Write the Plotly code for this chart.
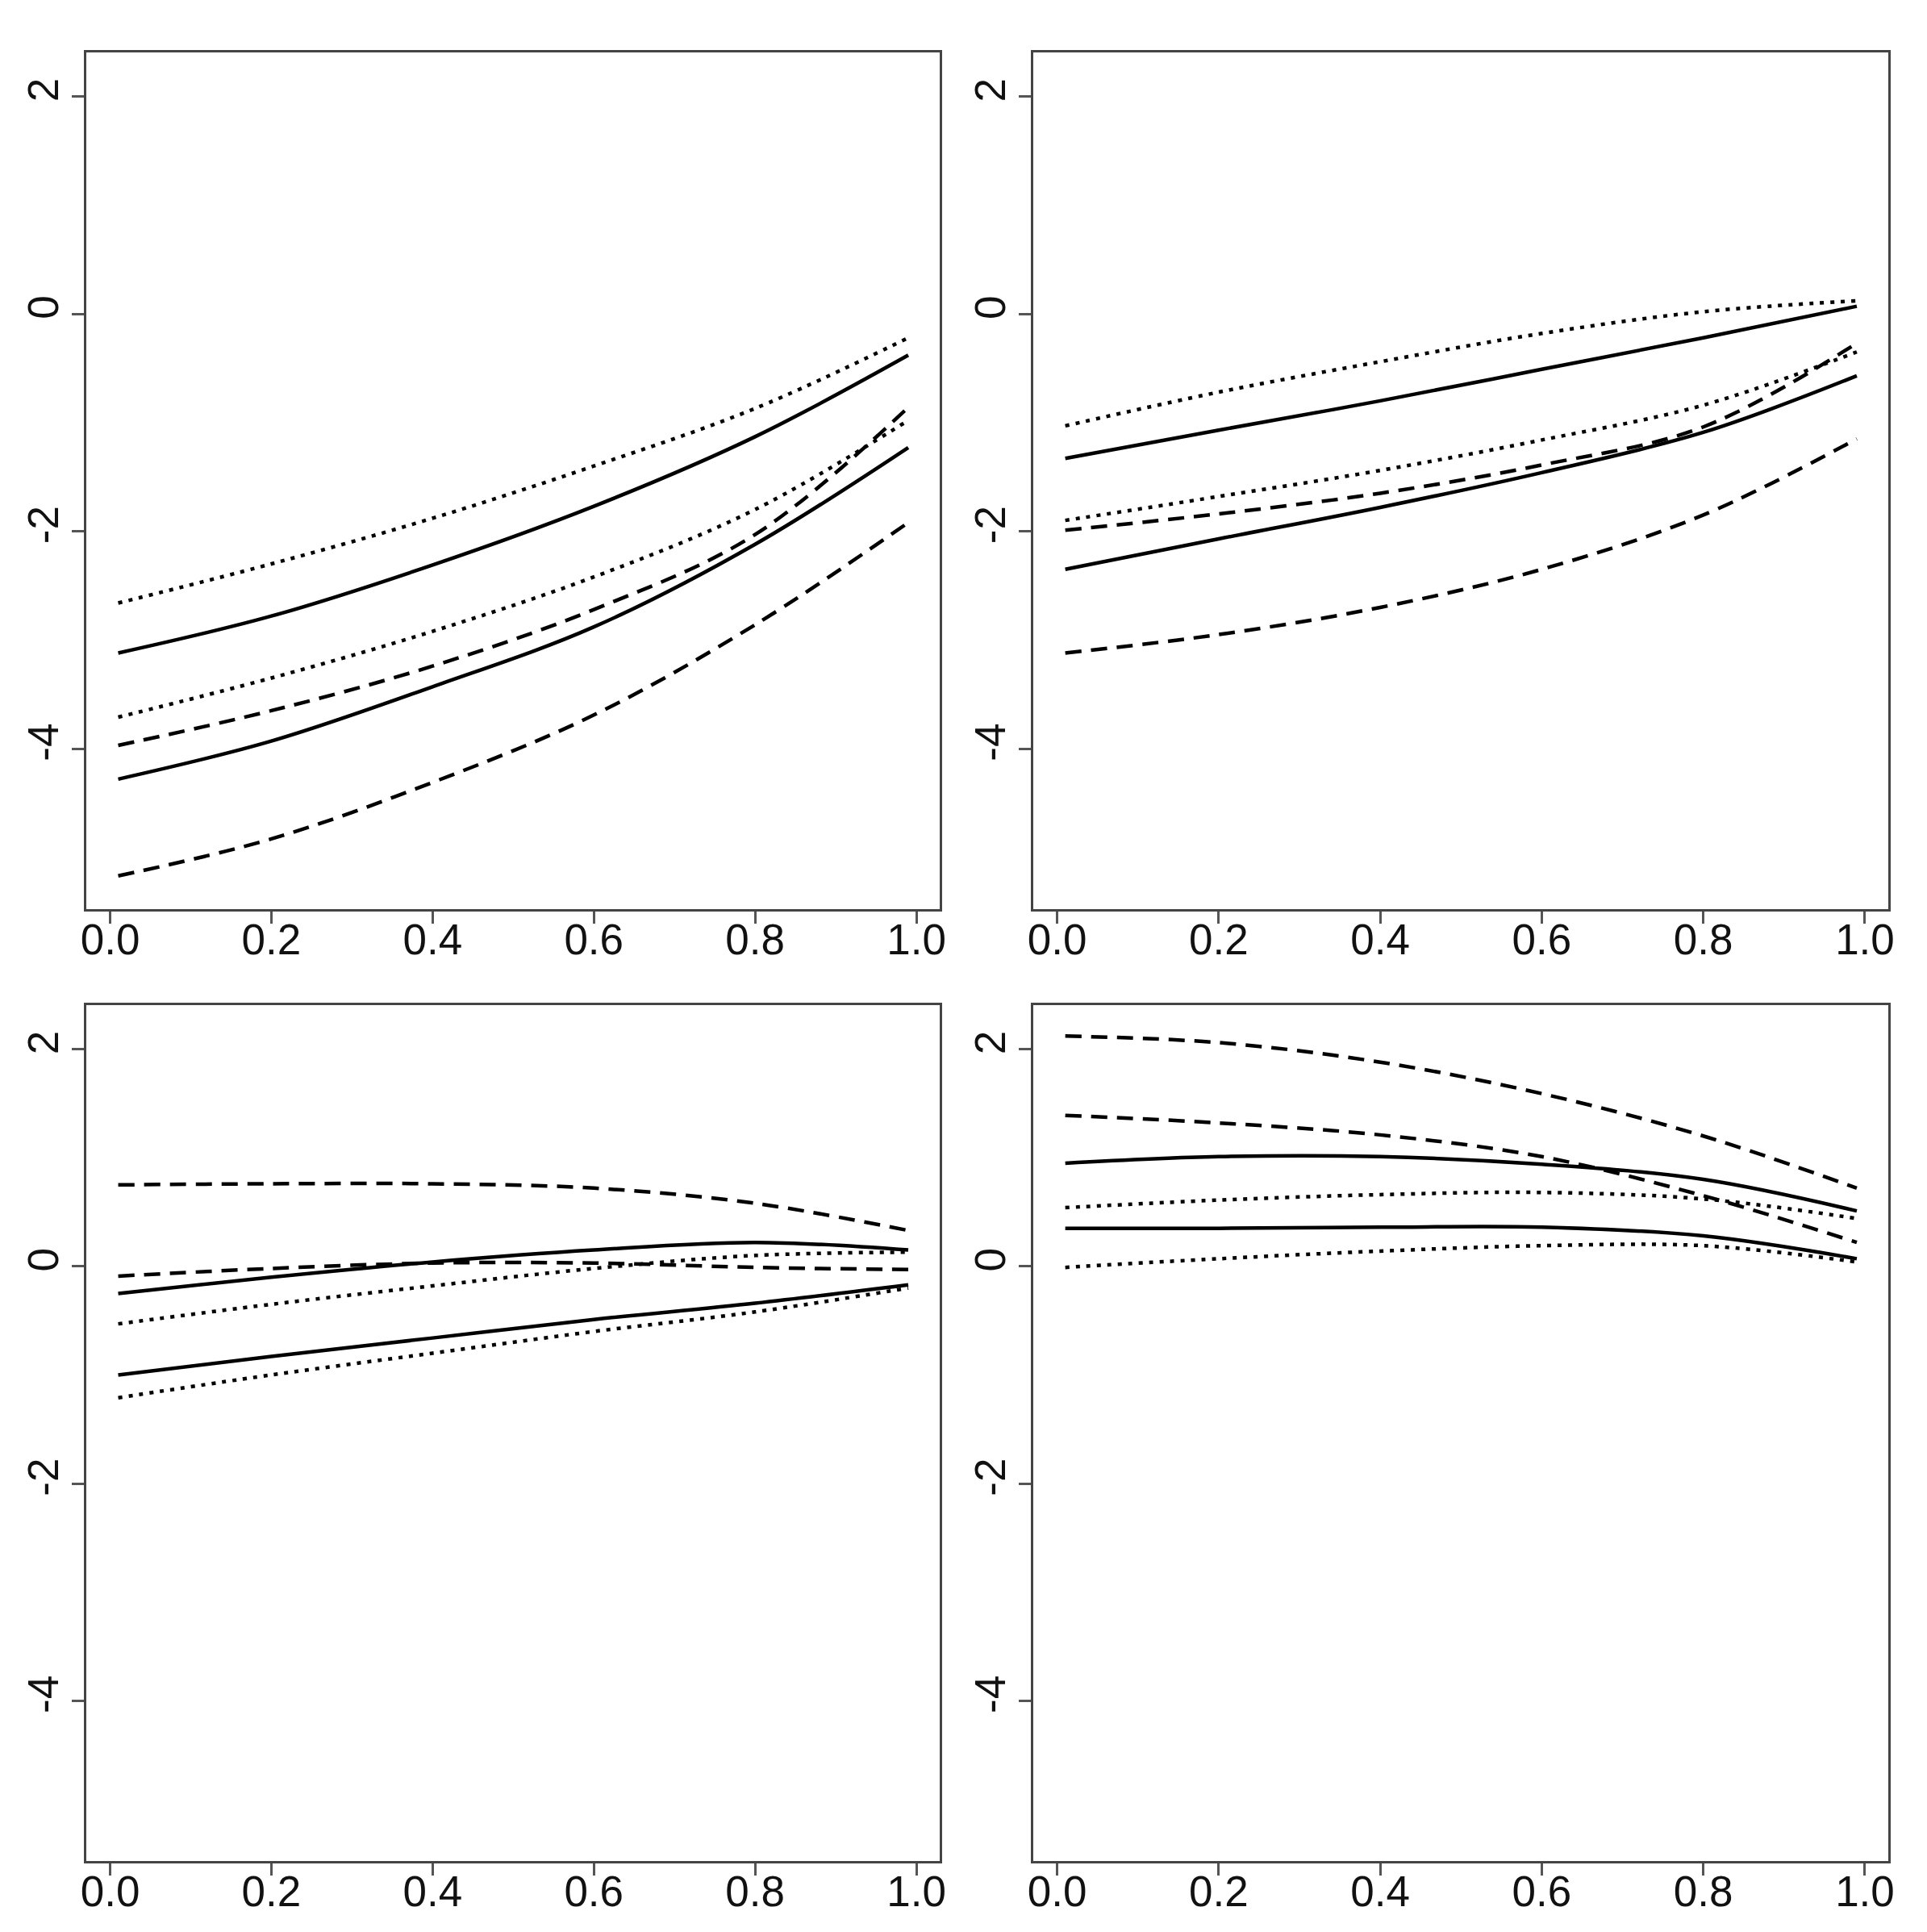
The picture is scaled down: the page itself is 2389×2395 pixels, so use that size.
import plotly.graph_objects as go

# ---------------- data ----------------
x_vals = [0.01, 0.2, 0.4, 0.6, 0.8, 0.99]
x_ticks = [0.0, 0.2, 0.4, 0.6, 0.8, 1.0]
y_ticks = [-4, -2, 0, 2]

# panel 1 (top-left)
p1_solid_a = [-3.12, -2.78, -2.31, -1.77, -1.13, -0.38]
p1_solid_b = [-4.28, -3.93, -3.43, -2.88, -2.12, -1.23]
p1_dash_a = [-3.97, -3.65, -3.24, -2.72, -2.03, -0.86]
p1_dash_b = [-5.17, -4.83, -4.31, -3.69, -2.86, -1.92]
p1_dot_a = [-2.66, -2.30, -1.88, -1.40, -0.87, -0.22]
p1_dot_b = [-3.71, -3.35, -2.92, -2.42, -1.80, -0.98]

# panel 2 (top-right)
p2_solid_a = [-1.33, -1.07, -0.80, -0.51, -0.22, 0.07]
p2_solid_b = [-2.35, -2.07, -1.78, -1.46, -1.09, -0.57]
p2_dash_a = [-1.99, -1.84, -1.65, -1.39, -1.04, -0.27]
p2_dash_b = [-3.12, -2.95, -2.70, -2.35, -1.85, -1.15]
p2_dot_a = [-1.03, -0.72, -0.44, -0.18, 0.02, 0.12]
p2_dot_b = [-1.90, -1.68, -1.44, -1.16, -0.84, -0.35]

# panel 3 (bottom-left)
p3_solid_a = [-0.25, -0.10, 0.04, 0.15, 0.22, 0.15]
p3_solid_b = [-1.00, -0.83, -0.66, -0.49, -0.34, -0.17]
p3_dash_a = [0.75, 0.76, 0.76, 0.72, 0.58, 0.33]
p3_dash_b = [-0.09, -0.02, 0.03, 0.03, -0.01, -0.03]
p3_dot_a = [-0.53, -0.35, -0.18, -0.02, 0.10, 0.13]
p3_dot_b = [-1.21, -1.00, -0.80, -0.60, -0.42, -0.20]

# panel 4 (bottom-right)
p4_solid_a = [0.95, 1.01, 1.01, 0.94, 0.80, 0.51]
p4_solid_b = [0.35, 0.35, 0.36, 0.36, 0.28, 0.07]
p4_dash_a = [2.12, 2.06, 1.88, 1.59, 1.20, 0.72]
p4_dash_b = [1.39, 1.32, 1.21, 1.01, 0.65, 0.22]
p4_dot_a = [0.54, 0.61, 0.66, 0.68, 0.62, 0.44]
p4_dot_b = [-0.01, 0.07, 0.14, 0.19, 0.19, 0.04]

panels = [
    [p1_solid_a, p1_solid_b, p1_dash_a, p1_dash_b, p1_dot_a, p1_dot_b],
    [p2_solid_a, p2_solid_b, p2_dash_a, p2_dash_b, p2_dot_a, p2_dot_b],
    [p3_solid_a, p3_solid_b, p3_dash_a, p3_dash_b, p3_dot_a, p3_dot_b],
    [p4_solid_a, p4_solid_b, p4_dash_a, p4_dash_b, p4_dot_a, p4_dot_b],
]
styles = ["solid", "solid", "20px,12px", "20px,12px", "5px,8px", "5px,8px"]

# ---------------- layout ----------------
# the page body has an 8px default margin, so the figure is 16px smaller
PAGE_W, PAGE_H, M = 2389, 2395, 8
W, H = PAGE_W - 2 * M, PAGE_H - 2 * M


def fx(px):
    return (px - M) / W


def fy(px):
    return 1 - (px - M) / H


xdom = [[fx(100), fx(1165)], [fx(1282), fx(2349)]]
ydom = [[fy(1127), fy(65)], [fy(2307), fy(1246)]]
font = dict(family="Liberation Sans, Arial, sans-serif", size=53, color="#111")

fig = go.Figure()
layout = dict(width=W, height=H, margin=dict(l=0, r=0, t=0, b=0),
              paper_bgcolor="white", plot_bgcolor="white", showlegend=False)

for i, series in enumerate(panels):
    row, col = divmod(i, 2)
    n = "" if i == 0 else str(i + 1)
    for ys, dash in zip(series, styles):
        fig.add_trace(go.Scatter(
            x=x_vals, y=ys, mode="lines", xaxis="x" + n, yaxis="y" + n,
            line=dict(color="black", width=4.5, dash=dash, shape="spline", smoothing=1.0),
            hoverinfo="skip"))
    layout["xaxis" + n] = dict(
        domain=xdom[col], anchor="y" + n, range=[-0.0292, 1.0292],
        tickvals=x_ticks, ticktext=[f"{v:.1f}" for v in x_ticks],
        ticks="outside", ticklen=15, tickwidth=3, tickcolor="#555",
        ticklabelstandoff=-26,
        showline=True, mirror=True, linecolor="#444", linewidth=3,
        showgrid=False, zeroline=False, tickfont=font)
    layout["yaxis" + n] = dict(
        domain=ydom[row], anchor="x" + n, range=[-5.476, 2.405],
        tickvals=y_ticks, ticktext=[str(v) for v in y_ticks], tickangle=-90,
        ticks="outside", ticklen=15, tickwidth=3, tickcolor="#555",
        ticklabelstandoff=-4,
        showline=True, mirror=True, linecolor="#444", linewidth=3,
        showgrid=False, zeroline=False, tickfont=font)

fig.update_layout(**layout)
fig.write_html("out.html")
